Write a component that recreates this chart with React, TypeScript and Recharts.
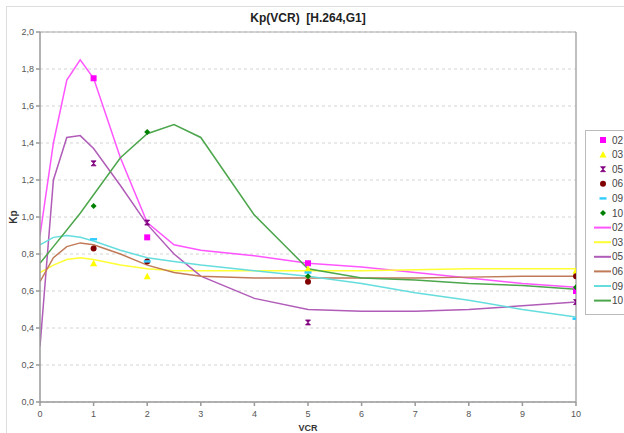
import React from 'react';
import {
  ComposedChart,
  Line,
  Scatter,
  XAxis,
  YAxis,
  CartesianGrid,
  ReferenceLine,
  Label,
} from 'recharts';

// x positions of the fitted curves
const curveX = [0, 0.25, 0.5, 0.75, 1, 1.5, 2, 2.5, 3, 4, 5, 6, 7, 8, 9, 10];
// x positions of the measured points
const pointX = [1, 2, 5, 10];

const curve02 = [0.9, 1.4, 1.74, 1.85, 1.75, 1.32, 0.97, 0.85, 0.82, 0.79, 0.75, 0.73, 0.7, 0.67, 0.64, 0.62];
const curve03 = [0.7, 0.74, 0.77, 0.78, 0.77, 0.74, 0.72, 0.71, 0.71, 0.71, 0.71, 0.71, 0.715, 0.72, 0.72, 0.72];
const curve05 = [0.3, 1.2, 1.43, 1.44, 1.37, 1.17, 0.96, 0.8, 0.68, 0.56, 0.5, 0.49, 0.49, 0.5, 0.52, 0.54];
const curve06 = [0.65, 0.78, 0.84, 0.86, 0.85, 0.8, 0.74, 0.7, 0.68, 0.67, 0.67, 0.67, 0.67, 0.675, 0.68, 0.68];
const curve09 = [0.85, 0.89, 0.9, 0.89, 0.87, 0.82, 0.78, 0.76, 0.74, 0.71, 0.68, 0.64, 0.59, 0.55, 0.5, 0.46];
const curve10 = [0.75, 0.84, 0.93, 1.02, 1.12, 1.32, 1.45, 1.5, 1.43, 1.01, 0.72, 0.67, 0.66, 0.64, 0.63, 0.61];

const points02 = [1.75, 0.89, 0.75, 0.6];
const points03 = [0.75, 0.68, 0.72, 0.71];
const points05 = [1.29, 0.97, 0.43, 0.54];
const points06 = [0.83, 0.76, 0.65, 0.68];
const points09 = [0.88, 0.76, 0.7, 0.45];
const points10 = [1.06, 1.46, 0.68, 0.62];

const yTicks = [0, 0.2, 0.4, 0.6, 0.8, 1.0, 1.2, 1.4, 1.6, 1.8, 2.0];
const xTicks = [0, 1, 2, 3, 4, 5, 6, 7, 8, 9, 10];

type Marker = 'square' | 'triangle' | 'bowtie' | 'circle' | 'dash' | 'diamond';

const pointSeries: { name: string; values: number[]; color: string; marker: Marker }[] = [
  { name: '02', values: points02, color: '#ff00ff', marker: 'square' },
  { name: '03', values: points03, color: '#ffff00', marker: 'triangle' },
  { name: '05', values: points05, color: '#800080', marker: 'bowtie' },
  { name: '06', values: points06, color: '#800000', marker: 'circle' },
  { name: '09', values: points09, color: '#33ccff', marker: 'dash' },
  { name: '10', values: points10, color: '#008000', marker: 'diamond' },
];

const curveSeries = [
  { name: '02', values: curve02, color: '#ff55ff' },
  { name: '03', values: curve03, color: '#ffff33' },
  { name: '05', values: curve05, color: '#b05cb8' },
  { name: '06', values: curve06, color: '#c07a58' },
  { name: '09', values: curve09, color: '#66dddd' },
  { name: '10', values: curve10, color: '#4ca64c' },
];

const toRows = (xs: number[], ys: number[]) => xs.map((x, i) => ({ x, y: ys[i] }));

const fmt = (v: number) => v.toFixed(1).replace('.', ',');

function markerPath(marker: Marker, cx: number, cy: number, color: string) {
  switch (marker) {
    case 'square':
      return <rect x={cx - 3} y={cy - 3} width={6} height={6} fill={color} />;
    case 'triangle':
      return <path d={`M${cx},${cy - 3.5}L${cx + 3.5},${cy + 3}L${cx - 3.5},${cy + 3}Z`} fill={color} />;
    case 'bowtie':
      return (
        <path
          d={`M${cx - 2.5},${cy - 2.5}L${cx + 2.5},${cy - 2.5}L${cx - 2.5},${cy + 2.5}L${cx + 2.5},${cy + 2.5}Z`}
          fill={color}
          stroke={color}
          strokeWidth={0.8}
        />
      );
    case 'circle':
      return <circle cx={cx} cy={cy} r={3} fill={color} />;
    case 'dash':
      return <rect x={cx - 3.5} y={cy - 1.2} width={7} height={2.4} fill={color} />;
    case 'diamond':
      return <path d={`M${cx},${cy - 3}L${cx + 3},${cy}L${cx},${cy + 3}L${cx - 3},${cy}Z`} fill={color} />;
  }
}

function LegendBox() {
  const rowH = 14.6;
  return (
    <div
      style={{
        position: 'absolute',
        left: 585,
        top: 130,
        width: 52,
        height: 185,
        border: '1px solid #bbb',
        background: '#fff',
        boxSizing: 'border-box',
      }}
    >
      <svg width={52} height={185} style={{ position: 'absolute', left: 0, top: 0 }}>
        {pointSeries.map((s, i) => {
          const cy = 9 + i * rowH;
          return (
            <g key={'p' + s.name}>
              {markerPath(s.marker, 17, cy, s.color)}
              <text x={26} y={cy + 3.5} fontSize={10} fill="#444">
                {s.name}
              </text>
            </g>
          );
        })}
        {curveSeries.map((s, i) => {
          const cy = 9 + (i + 6) * rowH;
          return (
            <g key={'c' + s.name}>
              <line x1={8} x2={25} y1={cy} y2={cy} stroke={s.color} strokeWidth={2} />
              <text x={26} y={cy + 3.5} fontSize={10} fill="#444">
                {s.name}
              </text>
            </g>
          );
        })}
      </svg>
    </div>
  );
}

export default function App() {
  return (
    <div
      style={{
        position: 'absolute',
        left: 0,
        top: 0,
        width: 624,
        height: 433,
        overflow: 'hidden',
        background: '#fff',
        fontFamily: 'Liberation Sans, Arial, sans-serif',
      }}
    >
      <div
        style={{
          position: 'absolute',
          left: 6,
          top: 6,
          width: 640,
          height: 440,
          border: '1px solid #ddd',
        }}
      />
      <div
        style={{
          position: 'absolute',
          left: 0,
          top: 11,
          width: 616,
          textAlign: 'center',
          fontSize: 12,
          fontWeight: 'bold',
          color: '#222',
          whiteSpace: 'pre',
        }}
      >
        {'Kp(VCR)  [H.264,G1]'}
      </div>
      <ComposedChart
        width={624}
        height={433}
        margin={{ top: 32, right: 48, bottom: 6, left: 0 }}
        style={{ position: 'absolute', left: 0, top: 0 }}
      >
        <CartesianGrid vertical={false} strokeDasharray="3 3" stroke="#d4d4d4" />
        <XAxis
          type="number"
          dataKey="x"
          domain={[0, 10]}
          ticks={xTicks}
          allowDataOverflow
          stroke="#999"
          strokeWidth={1.5}
          tickSize={4}
          tickMargin={5}
          tick={{ fontSize: 9, fill: '#555' }}
          height={25}
        >
          <Label value="VCR" position="insideBottom" offset={-4} style={{ fontSize: 9, fontWeight: 'bold', fill: '#333' }} />
        </XAxis>
        <YAxis
          type="number"
          domain={[0, 2]}
          ticks={yTicks}
          allowDataOverflow
          tickFormatter={fmt}
          stroke="#999"
          strokeWidth={1.5}
          tickSize={4}
          tick={{ fontSize: 9, fill: '#555' }}
          width={40}
        >
          <Label
            value="Kp"
            angle={-90}
            position="insideLeft"
            offset={13}
            style={{ fontSize: 10, fontWeight: 'bold', fill: '#333', textAnchor: 'middle' }}
          />
        </YAxis>
        <ReferenceLine y={2} stroke="#aaa" />
        <ReferenceLine x={10} stroke="#aaa" strokeWidth={1.5} />
        {curveSeries.map((s) => (
          <Line
            key={'c' + s.name}
            data={toRows(curveX, s.values)}
            dataKey="y"
            name={s.name}
            stroke={s.color}
            strokeWidth={1.5}
            dot={false}
            activeDot={false}
            isAnimationActive={false}
          />
        ))}
        {pointSeries.map((s) => (
          <Scatter
            key={'p' + s.name}
            data={toRows(pointX, s.values)}
            dataKey="y"
            name={s.name}
            fill={s.color}
            isAnimationActive={false}
            shape={(props: any) => markerPath(s.marker, props.cx, props.cy, s.color)}
          />
        ))}
      </ComposedChart>
      <LegendBox />
    </div>
  );
}
